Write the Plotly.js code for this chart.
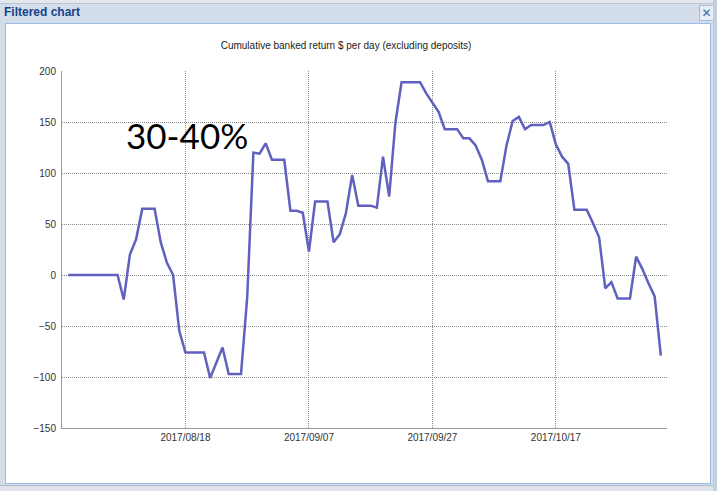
<!DOCTYPE html>
<html>
<head>
<meta charset="utf-8">
<script src="https://cdn.plot.ly/plotly-3.0.1.min.js"></script>
<style>
  html, body { margin: 0; padding: 0; width: 717px; height: 491px; overflow: hidden; background: #d3deea; }
  #topstrip { position: absolute; left: 0; top: 0; width: 717px; height: 3px; background: #e4e8ee; border-bottom: 1px solid #b8c6d8; }
  #wtitle { position: absolute; left: 4px; top: 5px; font: bold 12px "Liberation Sans", Arial, sans-serif; color: #15428b; }
  #closebtn { position: absolute; left: 699px; top: 5px; width: 13px; height: 14px; border: 1px solid #a9bcd6; background: #e8eef7; color: #3d6aa8; font: 12px "DejaVu Sans", sans-serif; line-height: 14px; text-align: center; }
  #panel { position: absolute; left: 5px; top: 23px; width: 704px; height: 459px; background: #ffffff; border: 1px solid #99bbe8; }
  #bottomstrip { position: absolute; left: 0; top: 485px; width: 717px; height: 6px; background: #dfe3e8; border-top: 1px solid #b0bccb; }
  #rightedge { position: absolute; left: 713px; top: 0; width: 4px; height: 491px; background: #c3cfdd; }
  #chart { position: absolute; left: 0; top: 0; width: 717px; height: 491px; }
</style>
</head>
<body>
<div id="topstrip"></div>
<div id="wtitle">Filtered chart</div>
<div id="closebtn">✕</div>
<div id="panel"></div>
<div id="bottomstrip"></div>
<div id="rightedge"></div>
<div id="chart"></div>
<script>
// Data: daily cumulative banked return, starting 2017-07-30
const startDate = '2017-07-30';
const values = [
  0, 0, 0, 0, 0, 0, 0, 0, 0, -24,
  20, 35, 65, 65, 65, 32, 12, 0, -55, -76,
  -76, -76, -76, -101, -86, -71, -97, -97, -97, -22,
  120, 119, 129, 113, 113, 113, 63, 63, 61, 23,
  72, 72, 72, 32, 40, 61, 98, 68, 68, 68,
  66, 116, 77, 149, 189, 189, 189, 189, 178, 169,
  160, 143, 143, 143, 134, 134, 127, 113, 92, 92,
  92, 127, 151, 155, 143, 147, 147, 147, 150, 128,
  116, 109, 64, 64, 64, 51, 37, -13, -7, -23,
  -23, -23, 18, 6, -8, -21, -79
];
const tickDates = ['2017-08-18', '2017-09-07', '2017-09-27', '2017-10-17'];
const tickLabels = ['2017/08/18', '2017/09/07', '2017/09/27', '2017/10/17'];
const yTicks = [-150, -100, -50, 0, 50, 100, 150, 200];
const chartTitle = 'Cumulative banked return $ per day (excluding deposits)';
const noteText = '30-40%';

// build the daily date sequence
const dates = [];
const d0 = new Date(startDate + 'T00:00:00Z');
for (let i = 0; i < values.length; i++) {
  const d = new Date(d0.getTime() + i * 86400000);
  dates.push(d.toISOString().slice(0, 10));
}

const trace = {
  x: dates,
  y: values,
  type: 'scatter',
  mode: 'lines',
  line: { color: '#6060bf', width: 2.5 },
  hoverinfo: 'x+y'
};

const gridStyle = {
  showgrid: true,
  gridcolor: '#8a8a8a',
  griddash: '1px,1px',
  gridwidth: 1,
  showline: true,
  linecolor: '#999',
  linewidth: 1,
  zeroline: false,
  ticks: '',
  tickfont: { family: 'Liberation Sans, Arial, sans-serif', size: 10, color: '#333' }
};

const layout = {
  width: 717,
  height: 491,
  margin: { l: 62, r: 50, t: 71, b: 63 },
  paper_bgcolor: 'rgba(0,0,0,0)',
  plot_bgcolor: '#ffffff',
  showlegend: false,
  title: {
    text: chartTitle,
    font: { family: 'Liberation Sans, Arial, sans-serif', size: 10, color: '#222' },
    x: 0.4826, xanchor: 'center',
    y: 1 - 45 / 491, yanchor: 'middle'
  },
  xaxis: Object.assign({
    type: 'date',
    range: ['2017-07-29', '2017-11-04'],
    tickvals: tickDates,
    ticktext: tickLabels
  }, gridStyle),
  yaxis: Object.assign({
    range: [-150, 200],
    tickvals: yTicks,
    ticklabelstandoff: 3
  }, gridStyle),
  annotations: [{
    text: noteText,
    xref: 'paper', yref: 'paper',
    x: (124 - 62) / 605, xanchor: 'left',
    y: (428 - 135) / 357, yanchor: 'middle',
    showarrow: false,
    font: { family: 'Lato, sans-serif', size: 35, color: '#000' }
  }]
};

Plotly.newPlot('chart', [trace], layout, { displayModeBar: false, staticPlot: true });
</script>
</body>
</html>
